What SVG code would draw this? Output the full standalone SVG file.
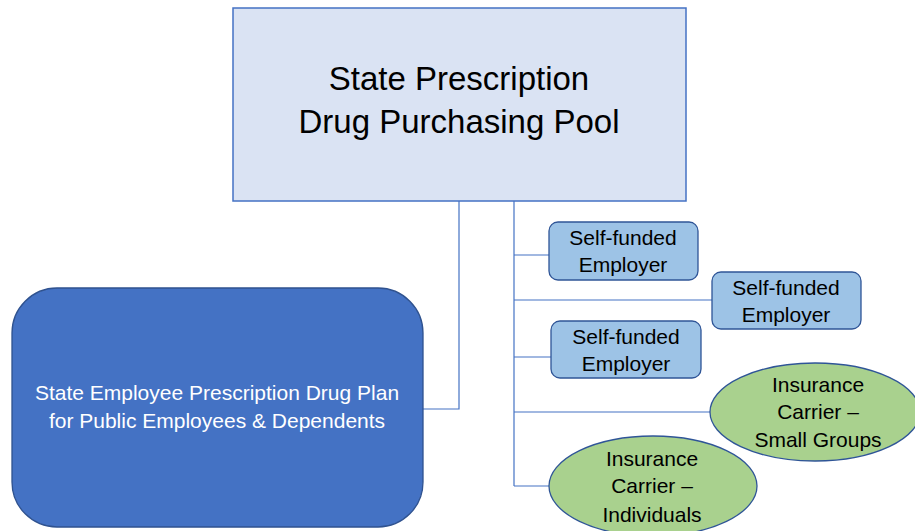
<svg xmlns="http://www.w3.org/2000/svg" width="915" height="531" viewBox="0 0 915 531">
<style>
text{font-family:"Liberation Sans",Arial,sans-serif;text-anchor:middle;fill:#000}
.conn{fill:none;stroke:#4472C4;stroke-width:1.2}
.sf{fill:#9DC3E6;stroke:#2F5597;stroke-width:1.3}
.ins{fill:#A9D18E;stroke:#2F5597;stroke-width:1.3}
.t21{font-size:21px}
</style>
<rect width="915" height="531" fill="#fff"/>
<g id="connectors">
<path class="conn" d="M459,201 V409 H423"/>
<path class="conn" d="M514,201 V486"/>
<path class="conn" d="M514,255 H549"/>
<path class="conn" d="M514,300 H712"/>
<path class="conn" d="M514,357 H551"/>
<path class="conn" d="M514,412 H710"/>
<path class="conn" d="M514,486 H549"/>
</g>
<g id="pool">
<rect x="233" y="8" width="453" height="193" fill="#DAE3F3" stroke="#4472C4" stroke-width="1.5"/>
<text x="459" y="90" font-size="33">State Prescription</text>
<text x="459" y="133" font-size="33">Drug Purchasing Pool</text>
</g>
<g id="state-plan">
<rect x="12" y="288" width="411" height="239" rx="45" fill="#4472C4" stroke="#2F528F" stroke-width="1.3"/>
<text x="217" y="400" class="t21" style="fill:#fff">State Employee Prescription Drug Plan</text>
<text x="217" y="428" class="t21" style="fill:#fff">for Public Employees &amp; Dependents</text>
</g>
<g id="sf1">
<rect class="sf" x="549" y="222" width="149" height="58" rx="9"/>
<text x="623" y="245" class="t21">Self-funded</text>
<text x="623" y="272" class="t21">Employer</text>
</g>
<g id="sf2">
<rect class="sf" x="712" y="272" width="149" height="57" rx="9"/>
<text x="786" y="295" class="t21">Self-funded</text>
<text x="786" y="322" class="t21">Employer</text>
</g>
<g id="sf3">
<rect class="sf" x="551" y="321" width="150" height="57" rx="9"/>
<text x="626" y="344" class="t21">Self-funded</text>
<text x="626" y="371" class="t21">Employer</text>
</g>
<g id="small-groups">
<ellipse class="ins" cx="815" cy="412" rx="105" ry="49"/>
<text x="818" y="392" class="t21">Insurance</text>
<text x="818" y="419" class="t21">Carrier –</text>
<text x="818" y="447" class="t21">Small Groups</text>
</g>
<g id="individuals">
<ellipse class="ins" cx="653" cy="486" rx="104" ry="50"/>
<text x="652" y="466" class="t21">Insurance</text>
<text x="652" y="493" class="t21">Carrier –</text>
<text x="652" y="522" class="t21">Individuals</text>
</g>
</svg>
